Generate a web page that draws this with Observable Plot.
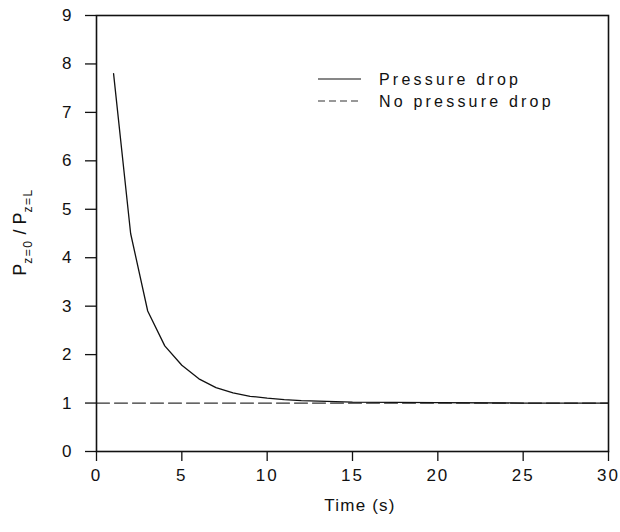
<!DOCTYPE html>
<html>
<head>
<meta charset="utf-8">
<script src="https://cdn.jsdelivr.net/npm/d3@7"></script>
<script src="https://cdn.jsdelivr.net/npm/@observablehq/plot@0.6"></script>
<style>
  html, body { margin: 0; padding: 0; background: #fff; }
  svg { font-family: "Liberation Sans", Arial, sans-serif; }
</style>
</head>
<body>
<div id="chart"></div>
<script>
// Data
const time = [1, 2, 3, 4, 5, 6, 7, 8, 9, 10, 11, 12, 13, 14, 15, 20, 25, 30];
const pressureDrop = [7.8, 4.5, 2.9, 2.18, 1.78, 1.5, 1.32, 1.21, 1.14, 1.1, 1.07, 1.05, 1.04, 1.03, 1.02, 1.01, 1.0, 1.0];
const noDropTime = [0, 30];
const noDropValue = [1, 1];
const xTicks = [0, 5, 10, 15, 20, 25, 30];
const yTicks = [0, 1, 2, 3, 4, 5, 6, 7, 8, 9];
const seriesNames = ["Pressure drop", "No pressure drop"];

const dropData = time.map((t, i) => ({t, v: pressureDrop[i]}));
const noDropData = noDropTime.map((t, i) => ({t, v: noDropValue[i]}));

const plot = Plot.plot({
  width: 620,
  height: 532,
  marginLeft: 96,
  marginRight: 12,
  marginTop: 15,
  marginBottom: 81,
  style: {fontFamily: "Liberation Sans, Arial, sans-serif", fontSize: "17px", background: "#fff", color: "#111"},
  x: {domain: [0, 30], ticks: xTicks, label: null},
  y: {domain: [0, 9], ticks: yTicks, label: null},
  marks: [
    Plot.axisX({ticks: xTicks, tickSize: 10, tickPadding: 7, fontSize: 17, label: null, strokeWidth: 1.3}),
    Plot.axisY({ticks: yTicks, tickSize: 11, tickPadding: 14, fontSize: 17, label: null, strokeWidth: 1.3}),
    Plot.line(noDropData, {x: "t", y: "v", stroke: "#333", strokeWidth: 1.2, strokeDasharray: "13,5"}),
    Plot.line(dropData, {x: "t", y: "v", stroke: "#111", strokeWidth: 1.3}),
    Plot.frame({stroke: "#111", strokeWidth: 1.6})
  ]
});

document.getElementById("chart").appendChild(plot);
const svg = d3.select(plot);
svg.selectAll("g[aria-label='x-axis tick label'] text").attr("letter-spacing", 2);

// x-axis title
svg.append("text")
  .attr("x", 360).attr("y", 511)
  .attr("text-anchor", "middle")
  .attr("font-size", 17)
  .attr("letter-spacing", 1.2)
  .attr("fill", "#111")
  .text("Time (s)");

// y-axis title with subscripts
const yl = svg.append("text")
  .attr("transform", "translate(26,232) rotate(-90)")
  .attr("text-anchor", "middle")
  .attr("font-size", 18)
  .attr("fill", "#111");
yl.append("tspan").text("P");
yl.append("tspan").attr("font-size", 12).attr("dy", 6).attr("letter-spacing", 1.5).text("z=0");
yl.append("tspan").attr("dy", -6).text(" / P");
yl.append("tspan").attr("font-size", 12).attr("dy", 6).attr("letter-spacing", 1.5).text("z=L");

// legend
const lg = svg.append("g").attr("font-size", 16).attr("fill", "#111").attr("text-anchor", "start");
const dashes = [null, "7,4"];
seriesNames.forEach((name, i) => {
  const y = 79 + i * 22;
  lg.append("line")
    .attr("x1", 318).attr("x2", 361).attr("y1", y).attr("y2", y)
    .attr("stroke", i === 0 ? "#111" : "#333")
    .attr("stroke-width", 1.2)
    .attr("stroke-dasharray", dashes[i]);
  lg.append("text")
    .attr("x", 379).attr("y", y)
    .attr("dy", "0.35em")
    .attr("text-anchor", "start")
    .attr("letter-spacing", 3.2)
    .text(name);
});
</script>
</body>
</html>
